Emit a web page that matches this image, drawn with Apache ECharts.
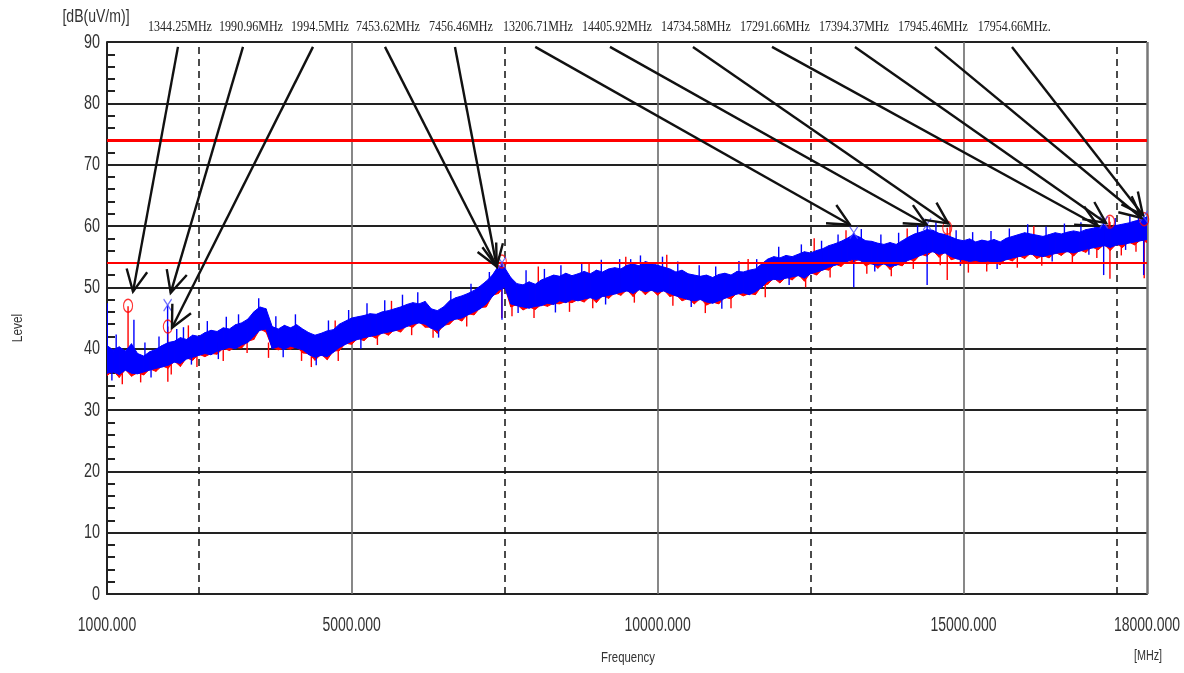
<!DOCTYPE html>
<html>
<head>
<meta charset="utf-8">
<script src="https://cdn.jsdelivr.net/npm/echarts@6/dist/echarts.min.js"></script>
<style>
  html, body { margin: 0; padding: 0; background: #ffffff; }
  #chart { width: 1184px; height: 673px; }
</style>
</head>
<body>
<div id="chart"></div>
<script>
// ---- Sweep: 1000 to 18000 MHz, envelope sampled every 100 MHz ----
const sweepStart = 1000;
const sweepStep = 100;

// Blue trace (min / max envelope, dBuV/m)
const blueLo = [
  36.0, 36.2, 35.8, 36.5, 36.0, 35.9, 36.2, 36.5, 36.8, 37.0,
  37.3, 37.8, 37.6, 38.3, 38.6, 38.9, 39.2, 39.0, 39.6, 39.9,
  40.2, 40.0, 40.6, 41.0, 42.0, 43.0, 43.2, 40.0, 40.3, 39.9,
  40.4, 40.1, 39.8, 39.0, 38.6, 38.9, 38.7, 39.4, 40.2, 40.7,
  41.2, 41.5, 41.8, 42.0, 42.2, 42.5, 42.7, 42.9, 43.2, 43.6,
  44.0, 44.2, 44.0, 43.3, 43.0, 43.6, 44.5, 44.8, 45.0, 45.5,
  46.0, 46.5, 47.3, 48.5, 49.5, 50.0, 47.3, 47.0, 46.8, 46.6,
  46.9, 47.0, 47.4, 47.2, 47.8, 47.5, 48.0, 47.8, 48.1, 48.3,
  48.0, 48.5, 48.7, 48.9, 49.2, 49.4, 49.0, 49.6, 49.3, 49.5,
  49.2, 49.4, 49.0, 48.6, 48.3, 48.0, 47.8, 48.0, 47.6, 47.4,
  47.8, 48.2, 48.6, 48.9, 49.1, 48.8, 49.3, 50.0, 51.0, 51.3,
  51.2, 51.5, 51.7, 51.9, 51.5, 52.2, 52.5, 52.8, 53.3, 53.6,
  53.9, 54.2, 54.6, 54.4, 54.0, 53.8, 53.6, 53.8, 53.4, 53.6,
  54.0, 54.4, 54.8, 55.2, 55.6, 55.8, 55.4, 55.6, 55.0, 54.6,
  54.5, 54.2, 54.4, 54.1, 54.3, 54.0, 54.2, 54.5, 54.8, 55.0,
  55.2, 55.4, 55.2, 55.0, 55.3, 55.5, 55.7, 55.8, 55.6, 55.9,
  56.2, 56.4, 56.6, 56.8, 56.5, 56.9, 57.0, 57.2, 57.4, 57.6,
  57.8
];
const blueHi = [
  40.5, 39.8, 40.3, 39.6, 40.8, 39.2, 38.8, 39.5, 39.9, 40.5,
  41.0, 41.2, 41.8, 41.5, 42.2, 42.0, 42.6, 43.0, 42.8, 43.4,
  43.2, 43.9, 44.2, 44.8, 46.0, 46.8, 46.5, 43.6, 43.2, 43.8,
  43.4, 43.9, 43.2, 42.6, 42.2, 42.5, 42.9, 43.1, 44.0, 44.5,
  45.0, 45.2, 45.4, 45.7, 45.6, 46.0, 46.2, 46.5, 46.8, 47.2,
  47.5, 47.3, 47.7, 46.5, 46.2, 46.8, 47.8, 48.3, 48.6, 49.0,
  49.5, 50.2, 51.0, 52.0, 53.5, 53.2, 51.6, 50.6, 50.4, 50.9,
  50.5, 51.2, 51.6, 52.0, 51.8, 52.3, 51.9, 52.2, 52.6, 52.2,
  52.8, 52.5, 53.0, 53.2, 53.0, 53.6, 53.8, 53.5, 54.2, 53.9,
  53.6, 53.3, 53.0, 52.5, 52.8, 52.2, 52.0, 51.8, 52.0, 51.6,
  52.1, 52.3, 52.0, 52.6, 52.5, 52.8, 53.0, 53.8, 54.6, 55.0,
  54.8, 55.2, 55.0, 55.4, 55.8, 55.6, 56.0, 56.3, 56.8, 57.1,
  57.5, 58.0, 58.6, 58.2, 57.6, 57.5, 57.2, 57.0, 57.3, 57.0,
  57.6, 58.2, 58.7, 59.0, 59.4, 59.3, 58.8, 58.6, 58.2, 57.8,
  57.6, 57.9, 57.4, 57.7, 57.5, 57.8, 57.4, 58.0, 58.3, 58.6,
  58.9, 58.7, 58.5, 58.3, 58.6, 58.9, 58.7, 59.0, 59.2, 59.0,
  59.4, 59.6, 59.8, 60.0, 59.7, 60.1, 60.3, 60.5, 60.8, 61.0,
  61.5
];

// Red trace (min / max envelope, dBuV/m) - mostly under the blue trace
const redLo = [
  35.6, 36.4, 35.3, 36.6, 35.5, 36.1, 35.7, 36.7, 36.3, 37.2,
  36.8, 38.0, 37.1, 38.5, 38.1, 39.1, 38.7, 39.2, 39.1, 40.1,
  39.7, 40.2, 40.1, 41.2, 41.5, 43.2, 42.7, 40.2, 39.8, 40.1,
  39.9, 40.3, 39.3, 39.2, 38.1, 39.1, 38.2, 39.6, 39.7, 40.9,
  40.7, 41.7, 41.3, 42.2, 41.7, 42.7, 42.2, 43.1, 42.7, 43.8,
  43.5, 44.4, 43.5, 43.5, 42.5, 43.8, 44.0, 45.0, 44.5, 45.7,
  45.5, 46.7, 46.8, 48.7, 49.0, 50.2, 46.8, 47.2, 46.3, 46.8,
  46.4, 47.2, 46.9, 47.4, 47.3, 47.7, 47.5, 48.0, 47.6, 48.5,
  47.5, 48.7, 48.2, 49.1, 48.7, 49.6, 48.5, 49.8, 48.8, 49.7,
  48.7, 49.6, 48.5, 48.8, 47.8, 48.2, 47.3, 48.2, 47.1, 47.6,
  47.3, 48.4, 48.1, 49.1, 48.6, 49.0, 48.8, 50.2, 50.5, 51.5,
  50.7, 51.7, 51.2, 52.1, 51.0, 52.4, 52.0, 53.0, 52.8, 53.8,
  53.4, 54.4, 54.1, 54.6, 53.5, 54.0, 53.1, 54.0, 52.9, 53.8,
  53.5, 54.6, 54.3, 55.4, 55.1, 56.0, 54.9, 55.8, 54.5, 54.8,
  54.0, 54.4, 53.9, 54.3, 53.8, 54.2, 53.7, 54.7, 54.3, 55.2,
  54.7, 55.6, 54.7, 55.2, 54.8, 55.7, 55.2, 56.0, 55.1, 56.1,
  55.7, 56.6, 56.1, 57.0, 56.0, 57.1, 56.5, 57.4, 56.9, 57.8,
  57.3
];
const redHi = [
  40.1, 39.4, 39.8, 39.2, 40.3, 38.8, 38.4, 39.1, 39.5, 40.0,
  40.6, 40.8, 41.3, 41.1, 41.8, 41.6, 42.1, 42.6, 42.4, 42.9,
  42.8, 43.5, 43.8, 44.3, 45.6, 46.3, 46.1, 43.2, 42.8, 43.3,
  43.0, 43.5, 42.8, 42.2, 41.8, 42.0, 42.5, 42.7, 43.5, 44.1,
  44.6, 44.8, 44.9, 45.3, 45.2, 45.5, 45.8, 46.1, 46.3, 46.8,
  47.1, 46.9, 47.2, 46.1, 45.8, 46.3, 47.4, 47.9, 48.1, 48.6,
  49.1, 49.7, 50.6, 51.6, 53.1, 52.8, 51.2, 50.2, 49.9, 50.5,
  50.1, 50.7, 51.2, 51.6, 51.3, 51.9, 51.5, 51.7, 52.2, 51.8,
  52.3, 52.1, 52.6, 52.7, 52.6, 53.2, 53.3, 53.1, 53.7, 53.5,
  53.2, 52.8, 52.6, 52.1, 52.3, 51.8, 51.6, 51.3, 51.6, 51.2,
  51.6, 51.9, 51.6, 52.1, 52.1, 52.3, 52.6, 53.4, 54.1, 54.6,
  54.4, 54.7, 54.6, 54.9, 55.4, 55.1, 55.6, 55.8, 56.4, 56.6,
  57.1, 57.5, 58.2, 57.7, 57.2, 57.0, 56.8, 56.5, 56.9, 56.6,
  57.1, 57.8, 58.2, 58.6, 58.9, 58.9, 58.3, 58.2, 57.7, 57.4,
  57.1, 57.5, 56.9, 57.3, 57.0, 57.4, 56.9, 57.6, 57.8, 58.2,
  58.4, 58.3, 58.0, 57.9, 58.1, 58.5, 58.2, 58.6, 58.7, 58.6,
  58.9, 59.2, 59.3, 59.6, 59.2, 59.7, 59.8, 60.1, 60.3, 60.6,
  61.0
];

// Narrow excursions outside the envelopes: [frequency MHz, from level, to level]
const blueSpikes = [
  [1005, 36.0, 47.4], [1440, 37.5, 44.7], [1990.96, 40.0, 47.1],
  [2140, 39.5, 43.2], [7456.46, 44.7, 54.0], [9560, 50.0, 54.6],
  [13206.71, 50.0, 58.9], [14405.92, 50.4, 60.3], [17291.66, 52.0, 60.6],
  [17945.46, 52.0, 61.5],
  [1150, 38, 42.3], [1620, 37.5, 41.0], [1850, 38, 42.0], [2250, 39, 43.5],
  [2640, 40, 44.5], [2950, 41, 45.2], [3150, 41.5, 45.6], [3480, 44, 48.2],
  [3760, 41, 45.3], [4080, 41.5, 45.6], [4620, 40, 44.6], [4950, 41.5, 46.3],
  [5250, 43, 47.4], [5540, 43.5, 47.9], [5830, 44.5, 48.8], [6080, 45, 49.2],
  [6620, 45, 49.4], [6950, 46.5, 50.6], [7250, 48, 52.5], [7850, 48, 52.8],
  [8150, 48, 53.0], [8420, 49, 53.6], [8760, 49, 54.0], [9080, 49.5, 54.5],
  [9380, 50, 54.6], [9720, 50.5, 55.2], [10080, 50, 55.0], [10330, 50, 54.2],
  [10680, 49, 53.6], [10950, 49, 53.4], [11330, 50, 54.3], [11620, 50, 54.6],
  [11980, 52, 56.6], [12350, 52.5, 57.0], [12680, 53, 57.6], [12950, 54, 58.6],
  [13330, 55, 59.5], [13650, 54.5, 58.6], [13940, 54.5, 58.9], [14250, 56, 60.2],
  [14550, 56.5, 60.6], [14880, 55.5, 59.3], [15150, 55, 59.0], [15450, 55, 59.2],
  [15750, 55.5, 59.6], [16050, 56, 60.3], [16350, 56, 59.9], [16650, 56.5, 60.4],
  [16920, 56.5, 60.6], [17150, 57, 61.0], [17480, 57.5, 61.3], [17720, 58, 61.7],
  [17860, 58, 62.0],
  [1080, 38, 34.8], [1720, 38, 35.3], [2380, 40, 37.4], [2820, 41, 38.3],
  [3880, 42, 38.6], [4420, 40, 37.3], [5150, 43, 40.0], [6420, 44.5, 41.8],
  [7720, 48.5, 45.8], [8330, 49, 45.9], [9150, 50, 47.2], [10550, 49.5, 46.8],
  [11050, 49.5, 46.5], [12150, 53, 50.4], [13550, 55, 52.6], [14950, 56, 53.5],
  [15550, 55.5, 53.0], [16450, 56.5, 54.2], [17050, 57.5, 55.3], [17650, 58.5, 56.1]
];
const redSpikes = [
  [1344.25, 38.2, 46.9], [1994.5, 34.6, 43.6], [7453.62, 45.0, 54.1],
  [14734.58, 51.2, 59.7], [17394.37, 51.4, 60.7], [17954.66, 51.5, 61.1],
  [1250, 37, 34.2], [1550, 37, 34.5], [2050, 38.5, 35.8], [2470, 39.5, 37.0],
  [2900, 40.5, 38.0], [3290, 41.5, 39.3], [3640, 41, 38.5], [4180, 40.5, 38.0],
  [4340, 39.5, 37.0], [4780, 40.5, 38.0], [5420, 43, 40.6], [5980, 44.5, 42.2],
  [6330, 44, 41.8], [6880, 46, 43.6], [7620, 48, 45.3], [7980, 47.5, 45.0],
  [8560, 48.5, 46.0], [8940, 49, 46.6], [9620, 50, 47.5], [10250, 49.5, 47.0],
  [10780, 48.5, 45.8], [11200, 49, 46.6], [11760, 51, 48.4], [12420, 52.5, 50.0],
  [12820, 54, 51.6], [13420, 54.5, 52.2], [13820, 54, 51.8], [14180, 55, 53.0],
  [14620, 56, 53.6], [15080, 55, 52.4], [15380, 55, 52.6], [15880, 55.5, 53.2],
  [16280, 55.8, 53.5], [16780, 56.5, 54.0], [17180, 57, 54.8], [17580, 57.5, 55.2],
  [17820, 58, 55.8],
  [2330, 41, 43.8], [4730, 42, 44.6], [5650, 45, 47.8], [8050, 50, 53.4],
  [8880, 51, 54.0], [9480, 52, 55.0], [10150, 52, 55.3], [11480, 52, 54.6],
  [12560, 55, 58.0], [13080, 56, 59.3], [14080, 56.5, 59.6], [14780, 57, 59.9],
  [16150, 57.5, 60.0], [17380, 58.5, 61.5]
];

// Peak markers
const markerFreqs  = [1344.25, 1990.96, 1994.5, 7453.62, 7456.46, 13206.71, 14405.92, 14734.58, 17291.66, 17394.37, 17945.46, 17954.66];
const markerLevels = [47.0, 47.1, 43.6, 54.2, 54.0, 58.9, 60.3, 59.7, 60.6, 60.7, 61.5, 61.1];
const markerTrace  = ['red', 'blue', 'red', 'red', 'blue', 'blue', 'blue', 'red', 'blue', 'red', 'blue', 'red'];

// Readout row above the plot: frequency under the centre of each readout
const readoutFreq = [2193, 3354, 4482, 5593, 6786, 8045, 9336, 10627, 11918, 13210, 14501, 15830];

// Leader arrows: start (under each readout) and tip
const arrowFromFreq  = [2160, 3223, 4367, 5544, 6688, 8000, 9222, 10578, 11870, 13226, 14534, 15793];
const arrowFromLevel = 89.2;
const arrowToFreq    = [1425, 2041, 2062, 7370, 7370, 13145, 14398, 14752, 17200, 17330, 17912, 17933];
const arrowToLevel   = [49.3, 49.1, 43.4, 53.4, 53.4, 60.2, 60.2, 60.4, 60.0, 60.5, 61.3, 61.8];

// Limit lines and axis ticks
const limitLines   = [74, 54];
const xTicks       = [1000, 5000, 10000, 15000, 18000];
const xSolidGuides = [5000, 10000, 15000];
const xDashGuides  = [2500, 7500, 12500, 17500];
const yTicks       = [0, 10, 20, 30, 40, 50, 60, 70, 80, 90];

const xMin = 1000, xMax = 18000;
const RED = '#ff0000', BLUE = '#0000ff';
const NARROW = '"Liberation Sans Narrow", "Liberation Sans", Arial, sans-serif';

const freqs = blueLo.map((_, i) => sweepStart + i * sweepStep);

function bandSeries(lo, hi, color, z) {
  const rows = [];
  for (let i = 0; i < freqs.length - 1; i++) {
    rows.push([freqs[i], lo[i], hi[i], freqs[i + 1], lo[i + 1], hi[i + 1]]);
  }
  return {
    type: 'custom', z: z, silent: true, clip: true,
    encode: { x: [0, 3], y: [1, 2, 4, 5] },
    data: rows,
    renderItem(params, api) {
      const a = api.coord([api.value(0), api.value(2)]);
      const b = api.coord([api.value(3), api.value(5)]);
      const c = api.coord([api.value(3), api.value(4)]);
      const d = api.coord([api.value(0), api.value(1)]);
      return { type: 'polygon', shape: { points: [a, b, c, d] },
               style: { fill: color, stroke: color, lineWidth: 1 } };
    }
  };
}

function spikeSeries(rows, color, z) {
  return {
    type: 'custom', z: z, silent: true, clip: true,
    encode: { x: 0, y: [1, 2] },
    data: rows,
    renderItem(params, api) {
      const a = api.coord([api.value(0), api.value(1)]);
      const b = api.coord([api.value(0), api.value(2)]);
      return { type: 'line', shape: { x1: a[0], y1: a[1], x2: b[0], y2: b[1] },
               style: { stroke: color, lineWidth: 1.4 } };
    }
  };
}

const chart = echarts.init(document.getElementById('chart'), null, { renderer: 'canvas' });

const option = {
  animation: false,
  backgroundColor: '#ffffff',
  grid: { left: 107, right: 37, top: 42, bottom: 79, containLabel: false },
  xAxis: {
    type: 'value', min: xMin, max: xMax,
    axisLine: { show: true, onZero: false, lineStyle: { color: '#222', width: 2 } },
    axisTick: { show: false },
    axisLabel: { show: false },
    splitLine: { show: false }
  },
  yAxis: {
    type: 'value', min: 0, max: 90, interval: 10,
    axisLine: { show: true, lineStyle: { color: '#222', width: 2 } },
    axisTick: { show: true, inside: true, length: 8, lineStyle: { color: '#222', width: 2 } },
    minorTick: { show: true, splitNumber: 5, length: 8, lineStyle: { color: '#222', width: 2 } },
    axisLabel: { show: false },
    splitLine: { show: true, lineStyle: { color: '#222', width: 2 } }
  },
  graphic: [
    { type: 'text', x: 96, y: 17, scaleX: 0.78,
      style: { text: '[dB(uV/m)]', fontFamily: NARROW, fontSize: 18, fill: '#333', align: 'center', verticalAlign: 'middle' } },
    { type: 'text', x: 18, y: 328, rotation: Math.PI / 2, scaleX: 0.85,
      style: { text: 'Level', fontFamily: '"Liberation Sans", Arial, sans-serif', fontSize: 14, fill: '#333', align: 'center', verticalAlign: 'middle' } },
    { type: 'text', x: 628, y: 658, scaleX: 0.76,
      style: { text: 'Frequency', fontFamily: '"Liberation Sans", Arial, sans-serif', fontSize: 15, fill: '#333', align: 'center', verticalAlign: 'middle' } },
    { type: 'text', x: 1148, y: 656, scaleX: 0.72,
      style: { text: '[MHz]', fontFamily: '"Liberation Sans", Arial, sans-serif', fontSize: 15, fill: '#333', align: 'center', verticalAlign: 'middle' } }
  ],
  series: [
    // vertical guides
    {
      type: 'custom', z: 1, silent: true, data: [],
      renderItem() { return null; },
      markLine: {
        silent: true, symbol: 'none', z: 1, animation: false,
        label: { show: false },
        data: [
          ...xSolidGuides.map(v => ({ xAxis: v, lineStyle: { color: '#6a6a6a', width: 1.6, type: 'solid' } })),
          ...xDashGuides.map(v => ({ xAxis: v, lineStyle: { color: '#111', width: 1.5, type: [7, 5] } })),
          { xAxis: xMax, lineStyle: { color: '#777', width: 2.5, type: 'solid' } }
        ]
      }
    },
    bandSeries(redLo, redHi, RED, 3),
    spikeSeries(redSpikes, RED, 3),
    bandSeries(blueLo, blueHi, BLUE, 4),
    spikeSeries(blueSpikes, BLUE, 4),
    // limit lines
    {
      type: 'custom', z: 6, silent: true, data: [],
      renderItem() { return null; },
      markLine: {
        silent: true, symbol: 'none', z: 6, animation: false,
        label: { show: false },
        data: limitLines.map((v, i) => ({ yAxis: v, lineStyle: { color: RED, width: i === 0 ? 3 : 2, type: 'solid' } }))
      }
    },
    // red circle markers
    {
      type: 'scatter', z: 7, silent: true,
      symbol: 'circle', symbolSize: [9, 13],
      itemStyle: { color: 'rgba(255,255,255,0)', borderColor: RED, borderWidth: 1.3 },
      data: markerFreqs.map((f, i) => [f, markerLevels[i], markerTrace[i]]).filter(r => r[2] === 'red')
    },
    // blue cross markers
    {
      type: 'scatter', z: 7, silent: true,
      symbol: 'path://M0 0L10 14M10 0L0 14', symbolSize: [8, 12],
      itemStyle: { color: 'rgba(0,0,0,0)', borderColor: '#4a4aff', borderWidth: 1.3 },
      data: markerFreqs.map((f, i) => [f, markerLevels[i], markerTrace[i]]).filter(r => r[2] === 'blue')
    },
    // leader arrows
    {
      type: 'custom', z: 8, silent: true, clip: false,
      encode: { x: [0, 2], y: [1, 3] },
      data: arrowFromFreq.map((f, i) => [f, arrowFromLevel, arrowToFreq[i], arrowToLevel[i]]),
      renderItem(params, api) {
        const a = api.coord([api.value(0), api.value(1)]);
        const b = api.coord([api.value(2), api.value(3)]);
        const ang = Math.atan2(b[1] - a[1], b[0] - a[0]);
        const L = 24, w = 0.45;
        const h1 = [b[0] - L * Math.cos(ang - w), b[1] - L * Math.sin(ang - w)];
        const h2 = [b[0] - L * Math.cos(ang + w), b[1] - L * Math.sin(ang + w)];
        return { type: 'group', children: [
          { type: 'line', shape: { x1: a[0], y1: a[1], x2: b[0], y2: b[1] }, style: { stroke: '#111', lineWidth: 2.4 } },
          { type: 'polyline', shape: { points: [h1, b, h2] }, style: { stroke: '#111', lineWidth: 2.4, fill: null } }
        ] };
      }
    },
    // marker readouts above the plot
    {
      type: 'custom', z: 8, silent: true, clip: false,
      encode: { x: 0 },
      data: readoutFreq.map((f, i) => [f, i]),
      renderItem(params, api) {
        const i = api.value(1);
        const p = api.coord([api.value(0), 90]);
        const txt = markerFreqs[i] + 'MHz' + (i === markerFreqs.length - 1 ? '.' : '');
        return { type: 'text', x: p[0], y: p[1] - 15, scaleX: 0.86,
                 style: { text: txt, fontFamily: '"Liberation Serif", "Times New Roman", serif', fontSize: 14,
                          fill: '#222', align: 'center', verticalAlign: 'middle' } };
      }
    },
    // y tick labels
    {
      type: 'custom', z: 8, silent: true, clip: false,
      encode: { y: 0 },
      data: yTicks.map(v => [v]),
      renderItem(params, api) {
        const v = api.value(0);
        const p = api.coord([xMin, v]);
        return { type: 'text', x: p[0] - 7, y: p[1], scaleX: 0.72,
                 style: { text: String(v), fontFamily: NARROW, fontSize: 20, fill: '#333',
                          align: 'right', verticalAlign: 'middle' } };
      }
    },
    // x tick labels
    {
      type: 'custom', z: 8, silent: true, clip: false,
      encode: { x: 0 },
      data: xTicks.map(v => [v]),
      renderItem(params, api) {
        const v = api.value(0);
        const p = api.coord([v, 0]);
        return { type: 'text', x: p[0], y: p[1] + 31, scaleX: 0.7,
                 style: { text: v.toFixed(3), fontFamily: NARROW, fontSize: 20, fill: '#333',
                          align: 'center', verticalAlign: 'middle' } };
      }
    }
  ]
};

chart.setOption(option);
</script>
</body>
</html>
